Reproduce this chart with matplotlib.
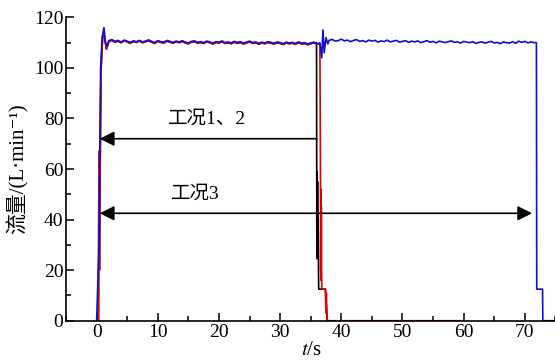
import numpy as np
import matplotlib
matplotlib.use('Agg')
import matplotlib.pyplot as plt
from matplotlib.ticker import MultipleLocator

plt.rcParams['font.family'] = ['Liberation Serif', 'Noto Sans CJK SC', 'DejaVu Serif']
plt.rcParams['mathtext.fontset'] = 'stix'

# steady-state sampling grid (s)
t_steady1 = np.arange(2.0, 36.51, 0.5)
t_steady2 = np.arange(38.0, 71.51, 0.5)

# 工况3 (blue)
blue_start_t = [0.0, 0.4, 0.65, 0.9, 1.2, 1.45, 1.7]
blue_start_v = [0.0, 30.0, 100.0, 112.0, 116.0, 110.0, 108.5]
blue_steady1 = [110.8, 111.2, 110.5, 110.9, 110.2, 111.0, 110.6, 110.1, 110.7, 110.4,
                110.9, 110.3, 110.6, 111.1, 110.5, 110.0, 110.8, 110.4, 110.2, 110.9,
                110.5, 110.1, 110.6, 110.3, 110.8, 110.2, 109.9, 110.5, 110.7, 110.1,
                110.4, 110.0, 110.6, 110.3, 109.8, 110.4, 110.2, 110.7, 110.0, 110.3,
                109.9, 110.5, 110.1, 110.4, 109.8, 110.2, 110.6, 110.0, 110.3, 109.7,
                110.2, 109.9, 110.4, 110.1, 109.8, 110.3, 110.0, 109.6, 110.2, 109.9,
                110.1, 109.7, 110.3, 109.8, 110.0, 109.5, 109.9, 110.2, 109.6, 109.9]
blue_mid_t = [36.8, 37.0, 37.2, 37.5, 37.8]
blue_mid_v = [104.0, 115.0, 106.0, 112.0, 109.5]
blue_steady2 = [110.9, 111.3, 110.6, 110.8, 111.4, 110.7, 111.0, 110.4, 110.9, 111.2,
                110.5, 110.8, 110.3, 111.0, 110.6, 110.9, 110.2, 110.7, 110.4, 111.0,
                110.3, 110.6, 110.9, 110.2, 110.5, 110.8, 110.1, 110.6, 110.3, 110.7,
                110.0, 110.4, 110.8, 110.2, 110.5, 109.9, 110.6, 110.3, 110.0, 110.4,
                110.7, 110.1, 110.3, 109.8, 110.5, 110.2, 110.0, 110.4, 109.7, 110.1,
                110.3, 109.8, 110.2, 110.5, 109.9, 110.1, 109.6, 110.3, 110.0, 109.8,
                110.4, 109.7, 110.6, 110.1, 110.5, 109.9, 110.3, 110.0]
blue_end_t = [71.9, 71.95, 72.9, 72.95, 75.5]
blue_end_v = [110.0, 12.5, 12.5, 0.0, 0.0]

# 工况2 (red)
red_start_t = [0.0, 0.3, 0.38, 0.45, 0.7, 1.0, 1.3, 1.6]
red_start_v = [0.0, 0.0, 67.0, 20.0, 98.0, 113.0, 112.0, 107.5]
red_steady = [110.5, 110.9, 110.2, 110.6, 110.0, 110.8, 110.3, 109.8, 110.5, 110.1,
              110.7, 110.0, 110.4, 110.8, 110.2, 109.7, 110.6, 110.1, 109.9, 110.6,
              110.2, 109.8, 110.4, 110.0, 110.5, 109.9, 109.6, 110.3, 110.4, 109.8,
              110.1, 109.7, 110.4, 110.0, 109.5, 110.1, 109.9, 110.4, 109.7, 110.0,
              109.6, 110.2, 109.8, 110.1, 109.5, 109.9, 110.3, 109.7, 110.0, 109.4,
              109.9, 109.6, 110.1, 109.8, 109.5, 110.0, 109.7, 109.3, 109.9, 109.6,
              109.8, 109.4, 110.0, 109.5, 109.7, 109.2, 109.6, 109.9, 109.3, 109.6]
red_end_t = [36.6, 36.63, 36.67, 36.7, 36.74, 36.78, 36.82, 37.4, 37.48, 37.56, 37.64, 37.75, 60.0]
red_end_v = [56.0, 20.0, 52.0, 16.0, 45.0, 20.0, 12.5, 12.5, 3.0, 11.0, 2.0, 0.0, 0.0]

# 工况1 (black)
black_end_t = [35.95, 36.0, 36.04, 36.08, 36.12, 36.16, 36.22, 36.3, 37.4, 37.7]
black_end_v = [110.0, 24.5, 59.0, 26.0, 55.0, 28.0, 40.0, 12.5, 12.5, 0.0]

xticks = [0, 10, 20, 30, 40, 50, 60, 70]
yticks = [0, 20, 40, 60, 80, 100, 120]

blue_t = np.concatenate([blue_start_t, t_steady1, blue_mid_t, t_steady2, blue_end_t])
blue_v = np.concatenate([blue_start_v, blue_steady1, blue_mid_v, blue_steady2, blue_end_v])
red_t = np.concatenate([red_start_t, t_steady1, red_end_t])
red_v = np.concatenate([red_start_v, red_steady, red_end_v])
n_b = int(np.sum(t_steady1 < 35.9))
black_t = np.concatenate([red_start_t, t_steady1[:n_b], black_end_t])
black_v = np.concatenate([red_start_v, red_steady[:n_b], black_end_v])

fig = plt.figure(figsize=(5.55, 3.62), dpi=100)
ax = fig.add_axes([0.119, 0.114, 0.885, 0.838])

ax.plot(black_t, black_v, color='black', lw=1.2)
ax.plot(red_t, red_v, color='#e00000', lw=1.2)
ax.plot(blue_t, blue_v, color='#1010c8', lw=1.2)

ax.annotate('', xy=(0.5, 72), xytext=(36.0, 72),
            arrowprops=dict(arrowstyle='-|>', color='black', lw=1.2, mutation_scale=22, shrinkA=0, shrinkB=0))
ax.text(18.1, 76.5, '工况1、2', fontsize=14, ha='center', va='bottom')
ax.annotate('', xy=(0.5, 42.5), xytext=(71.2, 42.5),
            arrowprops=dict(arrowstyle='<|-|>', color='black', lw=1.2, mutation_scale=22, shrinkA=0, shrinkB=0))
ax.text(16.2, 46.5, '工况3', fontsize=14, ha='center', va='bottom')

ax.set_xlim(-5, 75.3)
ax.set_ylim(0, 120)
ax.set_xticks(xticks)
ax.set_yticks(yticks)
ax.xaxis.set_minor_locator(MultipleLocator(5))
ax.yaxis.set_minor_locator(MultipleLocator(10))
ax.tick_params(which='both', direction='in', labelsize=14, pad=2, width=1.1)
ax.tick_params(which='major', length=6)
ax.tick_params(which='minor', length=3.5)
ax.spines['top'].set_visible(False)
ax.spines['right'].set_visible(False)
ax.spines['left'].set_linewidth(1.2)
ax.spines['bottom'].set_linewidth(1.2)

ax.set_xlabel('$t$/s', fontsize=15, labelpad=0)
ax.set_ylabel('流量/(L·min⁻¹)', fontsize=15, labelpad=4)

fig.savefig('out.png', dpi=100)
